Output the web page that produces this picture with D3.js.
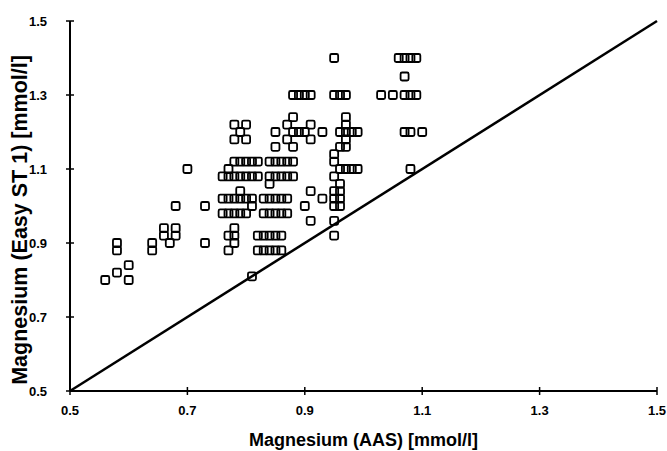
<!DOCTYPE html>
<html><head><meta charset="utf-8">
<script src="https://cdn.jsdelivr.net/npm/d3@7"></script>
<style>body{margin:0;background:#fff}svg{display:block}</style>
</head><body>
<script>
const aas = [0.56,0.58,0.58,0.58,0.60,0.60,0.64,0.64,0.66,0.66,0.67,0.68,0.68,0.68,0.70,0.73,0.73,
 0.77,0.78,0.79,0.80,0.81,0.82,
 0.76,0.77,0.78,0.79,0.80,0.81,0.82,
 0.84,0.85,0.86,0.87,0.88, 0.84,0.85,0.86,0.87,0.88,
 0.84,0.79,
 0.76,0.77,0.78,0.79,0.80,0.81, 0.83,0.84,0.85,0.86,0.87,
 0.76,0.77,0.78,0.79,0.80, 0.83,0.84,0.85,0.86,0.87,
 0.81,0.78,0.77,0.78,0.78,0.77,
 0.82,0.83,0.84,0.85,0.86, 0.82,0.83,0.84,0.85,0.86,
 0.81,
 0.78,0.80,0.78,0.80,0.79,
 0.88,0.87,0.91,0.85,0.88,0.89,0.90,0.93,0.85,0.87,0.88,0.91,
 0.88,0.89,0.90,0.91,
 0.90,0.91,0.91,0.93,
 0.95,0.95,0.96,0.97,0.97,0.96,0.97,0.98,0.99,0.97,0.97,0.96,0.97,0.95,0.95,0.96,0.97,0.98,0.99,0.95,0.96,0.95,0.96,0.95,0.96,0.95,0.96,0.95,0.95,
 1.06,1.07,1.08,1.09,1.07,1.03,1.05,1.07,1.08,1.09,1.07,1.08,1.10,1.08];
const easy = [0.80,0.82,0.88,0.90,0.84,0.80,0.88,0.90,0.92,0.94,0.90,0.92,0.94,1.00,1.10,1.00,0.90,
 1.10,1.12,1.12,1.12,1.12,1.12,
 1.08,1.08,1.08,1.08,1.08,1.08,1.08,
 1.12,1.12,1.12,1.12,1.12, 1.08,1.08,1.08,1.08,1.08,
 1.06,1.04,
 1.02,1.02,1.02,1.02,1.02,1.02, 1.02,1.02,1.02,1.02,1.02,
 0.98,0.98,0.98,0.98,0.98, 0.98,0.98,0.98,0.98,0.98,
 1.00,0.94,0.92,0.92,0.90,0.88,
 0.92,0.92,0.92,0.92,0.92, 0.88,0.88,0.88,0.88,0.88,
 0.81,
 1.22,1.22,1.18,1.18,1.20,
 1.24,1.22,1.22,1.20,1.20,1.20,1.20,1.20,1.16,1.18,1.16,1.18,
 1.30,1.30,1.30,1.30,
 1.00,0.96,1.04,1.02,
 1.40,1.30,1.30,1.30,1.24,1.20,1.20,1.20,1.20,1.22,1.18,1.16,1.16,1.14,1.12,1.10,1.10,1.10,1.10,1.08,1.06,1.04,1.04,1.02,1.02,1.00,1.00,0.96,0.92,
 1.40,1.40,1.40,1.40,1.35,1.30,1.30,1.30,1.30,1.30,1.20,1.20,1.20,1.10];
const ticks = [0.5,0.7,0.9,1.1,1.3,1.5];
const tickLabels = ["0.5","0.7","0.9","1.1","1.3","1.5"];
const xTitle = "Magnesium (AAS) [mmol/l]";
const yTitle = "Magnesium (Easy ST 1) [mmol/l]";

const W = 667, H = 451;
const svg = d3.select("body").append("svg").attr("width", W).attr("height", H);
const x = d3.scaleLinear().domain([0.5,1.5]).range([70,657]);
const y = d3.scaleLinear().domain([0.5,1.5]).range([391,21]);
const font = "Arial, 'Liberation Sans', sans-serif";

svg.append("line").attr("x1",x(0.5)).attr("x2",x(1.5)).attr("y1",y(0.5)).attr("y2",y(0.5)).attr("stroke","#000").attr("stroke-width",2);
svg.append("line").attr("x1",x(0.5)).attr("x2",x(0.5)).attr("y1",y(0.5)).attr("y2",y(1.5)).attr("stroke","#000").attr("stroke-width",2);

ticks.forEach((t,i)=>{
  svg.append("line").attr("x1",x(t)).attr("x2",x(t)).attr("y1",y(0.5)-4).attr("y2",y(0.5)+4).attr("stroke","#000").attr("stroke-width",1.5);
  svg.append("line").attr("x1",x(0.5)-4).attr("x2",x(0.5)+4).attr("y1",y(t)).attr("y2",y(t)).attr("stroke","#000").attr("stroke-width",1.5);
  svg.append("text").attr("x",x(t)).attr("y",y(0.5)+24).attr("text-anchor","middle")
    .attr("font-family",font).attr("font-size",13).attr("font-weight","bold").text(tickLabels[i]);
  svg.append("text").attr("x",x(0.5)-23).attr("y",y(t)+5).attr("text-anchor","end")
    .attr("font-family",font).attr("font-size",13).attr("font-weight","bold").text(tickLabels[i]);
});

svg.append("line").attr("x1",x(0.5)).attr("y1",y(0.5)).attr("x2",x(1.5)).attr("y2",y(1.5))
  .attr("stroke","#000").attr("stroke-width",2.5);

const s = 8;
svg.append("g").selectAll("rect").data(aas.map((a,i)=>[a,easy[i]])).join("rect")
  .attr("x",d=>x(d[0])-s/2).attr("y",d=>y(d[1])-s/2).attr("width",s).attr("height",s)
  .attr("rx",1.5).attr("fill","none").attr("stroke","#000").attr("stroke-width",1.8);

svg.append("text").attr("x",(x(0.5)+x(1.5))/2).attr("y",446).attr("text-anchor","middle")
  .attr("font-family",font).attr("font-size",18).attr("font-weight","bold").text(xTitle);
svg.append("text").attr("transform",`translate(27,220) rotate(-90)`).attr("text-anchor","middle")
  .attr("font-family",font).attr("font-size",21.5).attr("font-weight","bold").text(yTitle);
</script>
</body></html>
